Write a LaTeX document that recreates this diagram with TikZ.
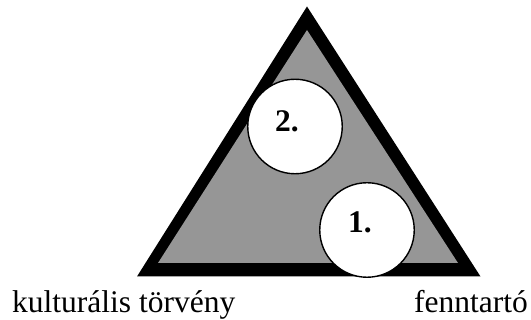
\documentclass[tikz,border=0pt]{standalone}
\usepackage{fontspec}
\setmainfont{Liberation Serif}
\definecolor{trigray}{RGB}{150,150,150}
\tikzset{
  disc/.style={circle,draw=black,line width=1.4pt,fill=white,minimum size=94.5pt,inner sep=0pt},
  num/.style={anchor=base west,inner sep=0pt,font=\fontsize{31.5}{36}\selectfont\bfseries},
  lbl/.style={anchor=base west,inner sep=0pt,font=\fontsize{31.5}{36}\selectfont}
}
\begin{document}
\begin{tikzpicture}[x=1pt,y=-1pt]
\useasboundingbox (0,0) rectangle (531,320);
\fill[black] (137,276.5) -- (480.5,276.5) -- (307,6.5) -- cycle;
\fill[trigray] (158,263) -- (458,263) -- (307,30) -- cycle;
\node[disc] (c2) at (295,126.5) {};
\node[disc] (c1) at (367,230) {};
\node[num] (t2) at (275,132) {2.};
\node[num] (t1) at (348,233) {1.};
\node[lbl] (l1) at (12,313) {kulturális törvény};
\node[lbl] (l2) at (414,313) {fenntartó};
\end{tikzpicture}
\end{document}
